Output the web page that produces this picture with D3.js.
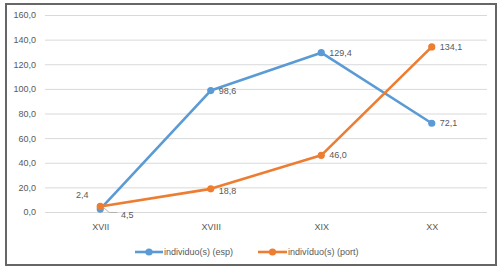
<!DOCTYPE html>
<html>
<head>
<meta charset="utf-8">
<script src="https://cdn.jsdelivr.net/npm/d3@7"></script>
<style>
  body { margin: 0; background: #fff; }
  text { font-family: "Liberation Sans", Arial, sans-serif; fill: #595959; }
</style>
</head>
<body>
<div id="chart-area"><svg></svg></div>
<script>
const categories = ["XVII", "XVIII", "XIX", "XX"];
const espValues = [2.4, 98.6, 129.4, 72.1];
const portValues = [4.5, 18.8, 46.0, 134.1];
const yTicks = [0, 20, 40, 60, 80, 100, 120, 140, 160];
const seriesNames = ["individuo(s) (esp)", "indivíduo(s) (port)"];

const chartSize = { width: 502, height: 269 };
const margin = { left: 45, right: 15, top: 15, bottom: 57 };
const width = chartSize.width - margin.left - margin.right;
const height = chartSize.height - margin.top - margin.bottom;
const colors = ["#5B9BD5", "#ED7D31"];
const fontSize = 9;
const fmt = v => d3.format(".1f")(v).replace(".", ",");

const svg = d3.select('#chart-area svg')
    .attr('width', chartSize.width)
    .attr('height', chartSize.height);

svg.append('rect')
    .attr('x', 6).attr('y', 4)
    .attr('width', 490).attr('height', 261)
    .attr('fill', 'none')
    .attr('stroke', '#666')
    .attr('stroke-width', 2);

const g = svg.append('g')
    .attr('transform', `translate(${margin.left},${margin.top})`);

const x = d3.scalePoint().domain(categories).range([0, width]).padding(0.5);
const y = d3.scaleLinear().domain([0, 160]).range([height, 0]);

const yAxis = d3.axisLeft(y).tickValues(yTicks).tickSize(-width).tickFormat(fmt);
g.append('g').attr('class', 'y-axis').call(yAxis)
    .call(a => a.select('.domain').remove())
    .call(a => a.selectAll('line').attr('stroke', '#d9d9d9'))
    .call(a => a.selectAll('text').attr('x', -9).attr('font-size', fontSize).style('fill', '#595959'));

const xAxis = d3.axisBottom(x).tickSize(0);
g.append('g').attr('class', 'x-axis')
    .attr('transform', `translate(0,${height})`)
    .call(xAxis)
    .call(a => a.select('.domain').remove())
    .call(a => a.selectAll('text').attr('y', 12).attr('font-size', fontSize).style('fill', '#595959'));

const series = [espValues, portValues];
const line = d3.line().x((d, i) => x(categories[i])).y(d => y(d));

series.forEach((vals, s) => {
    g.append('path')
        .attr('d', line(vals))
        .attr('fill', 'none')
        .attr('stroke', colors[s])
        .attr('stroke-width', 2.6)
        .attr('stroke-linejoin', 'round');
    g.selectAll(`.pt${s}`).data(vals).enter().append('circle')
        .attr('cx', (d, i) => x(categories[i]))
        .attr('cy', d => y(d))
        .attr('r', 3.6)
        .attr('fill', colors[s]);
});

// data labels
const labelOffsets = [
    [[-18, -11, "middle"], [8, 3, "start"], [8, 3, "start"], [8, 3, "start"]],
    [[27, 12, "middle"], [8, 5, "start"], [8, 3, "start"], [8, 3, "start"]]
];
series.forEach((vals, s) => {
    vals.forEach((v, i) => {
        const [dx, dy, anchor] = labelOffsets[s][i];
        g.append('text')
            .attr('x', x(categories[i]) + dx)
            .attr('y', y(v) + dy)
            .attr('text-anchor', anchor)
            .attr('font-size', fontSize)
            .text(fmt(v));
    });
});
// leader line for 4,5
g.append('path')
    .attr('d', `M${x(categories[0]) + 3},${y(portValues[0]) + 1} L${x(categories[0]) + 9},${y(portValues[0]) + 6} L${x(categories[0]) + 17},${y(portValues[0]) + 6}`)
    .attr('fill', 'none')
    .attr('stroke', '#a6a6a6')
    .attr('stroke-width', 0.8);

// legend
const legendY = 252;
const legendItems = [{ x1: 135, x2: 163 }, { x1: 258, x2: 287 }];
legendItems.forEach((it, s) => {
    svg.append('line')
        .attr('x1', it.x1).attr('x2', it.x2)
        .attr('y1', legendY).attr('y2', legendY)
        .attr('stroke', colors[s]).attr('stroke-width', 2.6);
    svg.append('circle')
        .attr('cx', (it.x1 + it.x2) / 2).attr('cy', legendY)
        .attr('r', 3.6).attr('fill', colors[s]);
    svg.append('text')
        .attr('x', it.x2 + 1).attr('y', legendY + 3)
        .attr('font-size', fontSize)
        .text(seriesNames[s]);
});
</script>
</body>
</html>
